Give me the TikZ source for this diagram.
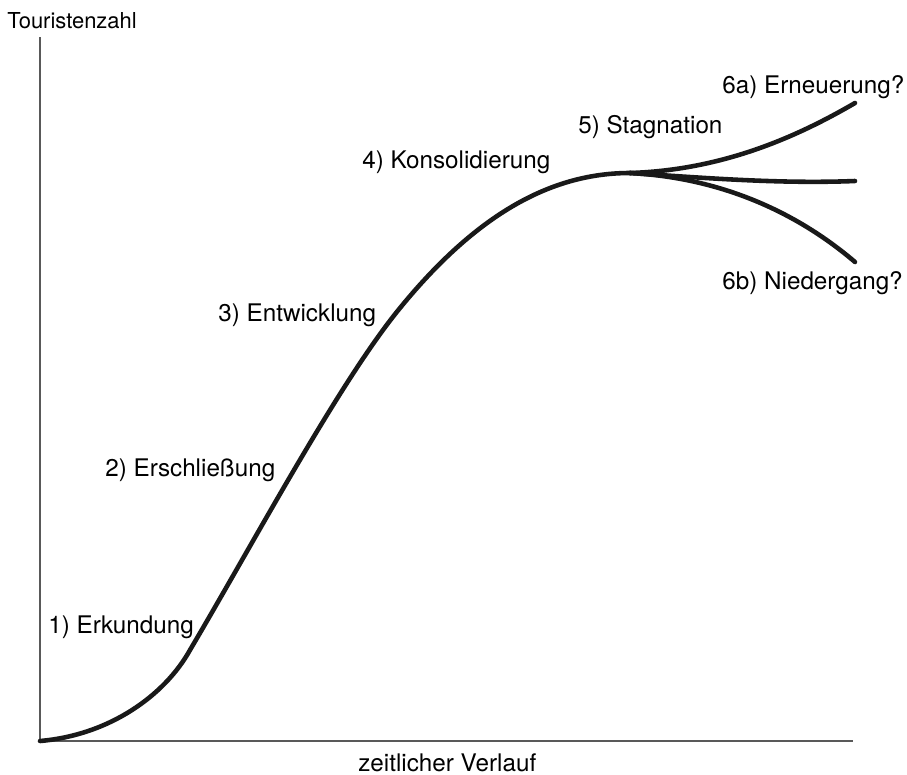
\documentclass[tikz,border=0pt]{standalone}
\usepackage{fontspec}
\setmainfont{TeX Gyre Heros}
\usepackage{tikz}

\begin{document}
\begin{tikzpicture}[x=0.02cm, y=-0.02cm,
  every node/.style={font=\fontsize{13.8}{16}\selectfont, inner sep=0pt, anchor=west},
  axis/.style={draw=black!65, line width=1pt},
  phase/.style={line width=2.6pt, draw=black!90, line cap=round}]
  \useasboundingbox (0,0) rectangle (907,775);

  % Axes
  \coordinate (origin) at (40,741);
  \coordinate (ytop) at (40,37);
  \coordinate (xend) at (853,741);
  \draw[axis] (ytop) -- (origin) -- (xend);
  \node[font=\fontsize{12.5}{14}\selectfont] (ylabel) at (7,21) {Touristenzahl};
  \node (xlabel) at (358,763) {zeitlicher Verlauf};

  % Life cycle curve
  \coordinate (kink) at (190,650);
  \coordinate (growth) at (400,308);
  \coordinate (peak) at (630,173);
  \draw[phase] (origin) .. controls (110,735) and (165,695) .. (kink)
    .. controls (255,540) and (340,381) .. (growth)
    .. controls (480,210) and (555,173) .. (peak);

  % Branches after stagnation
  \draw[phase] (peak) .. controls (725,170) and (800,135) .. (855,103);
  \draw[phase] (peak) .. controls (705,178) and (780,184) .. (855,181);
  \draw[phase] (peak) .. controls (725,178) and (800,215) .. (855,262);

  % Phase labels
  \node (p1) at (48,627) {1) Erkundung};
  \node (p2) at (105,470) {2) Erschließung};
  \node (p3) at (218,315) {3) Entwicklung};
  \node (p4) at (362,162) {4) Konsolidierung};
  \node (p5) at (578,127) {5) Stagnation};
  \node (p6a) at (722,87) {6a) Erneuerung?};
  \node (p6b) at (722,283) {6b) Niedergang?};
\end{tikzpicture}
\end{document}
